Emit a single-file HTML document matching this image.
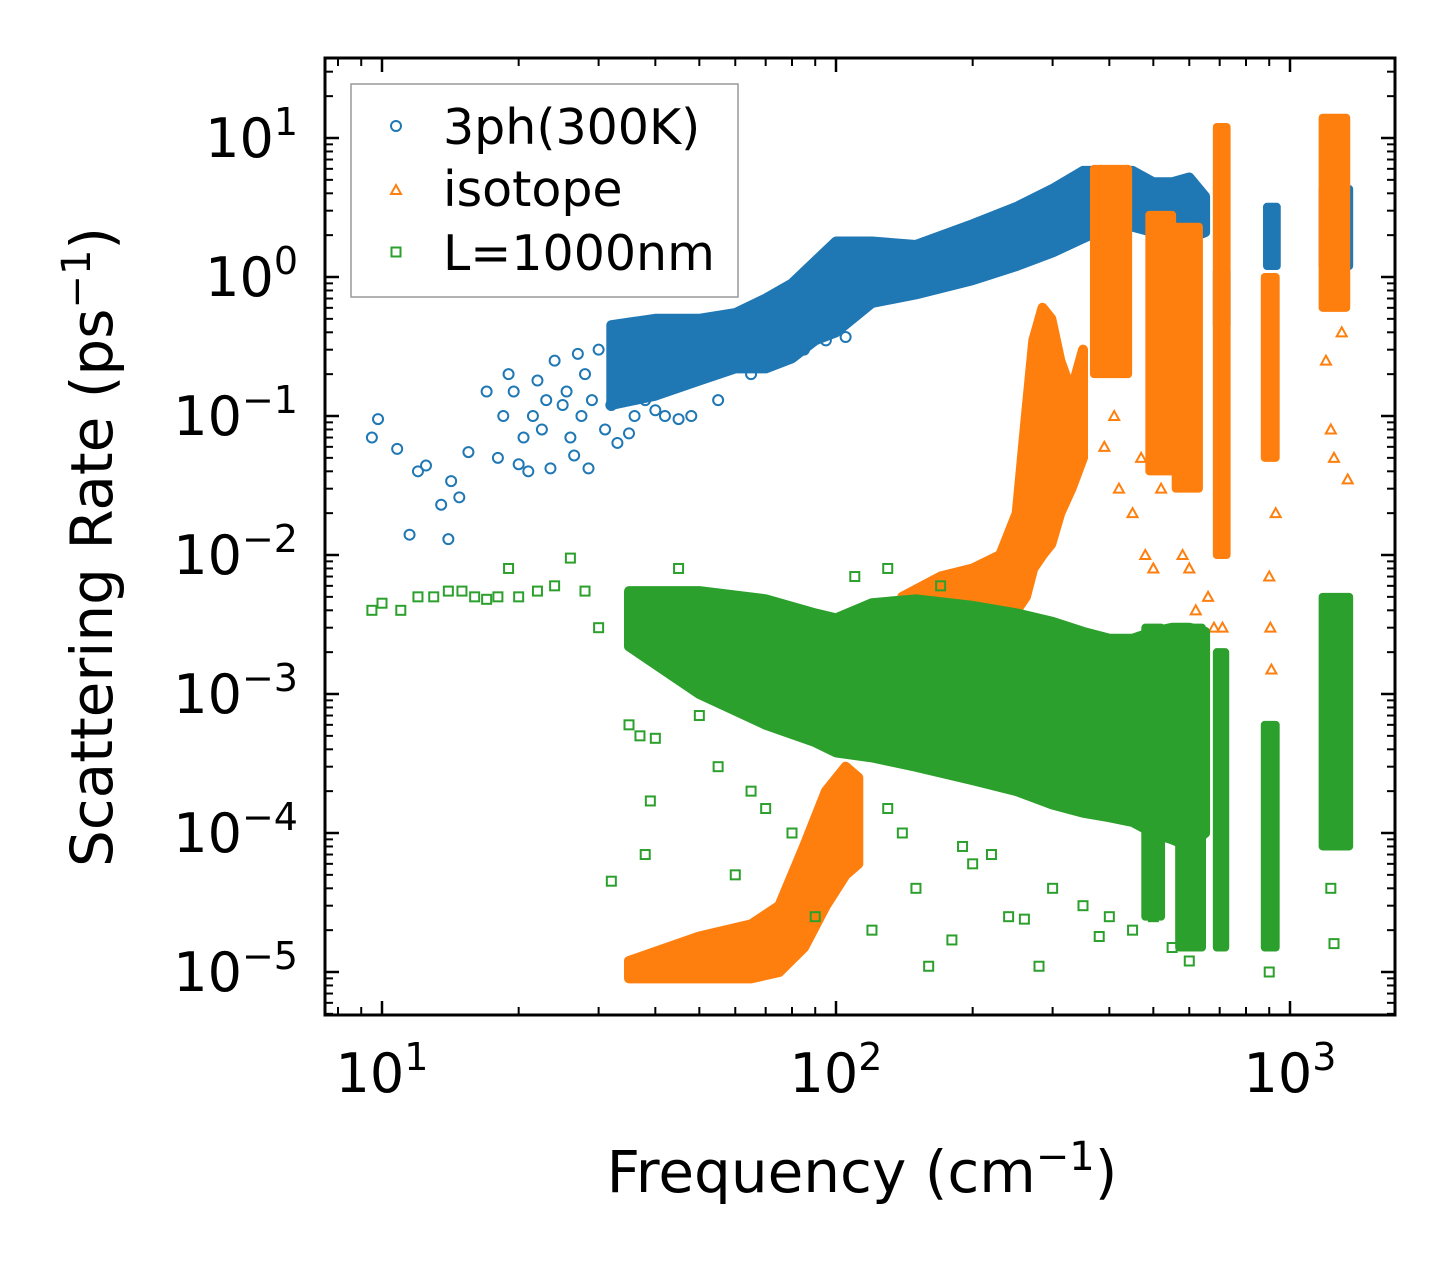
<!DOCTYPE html>
<html><head><meta charset="utf-8"><style>
html,body{margin:0;padding:0;background:#fff}
svg{display:block;font-family:"DejaVu Sans","Liberation Sans",sans-serif}
</style></head><body>
<svg id="chart" width="1455" height="1265" viewBox="0 0 1455 1265" xmlns="http://www.w3.org/2000/svg">
<rect width="1455" height="1265" fill="#fff"/>
<defs><clipPath id="clip"><rect x="325" y="58" width="1070" height="957"/></clipPath></defs>
<g id="marks" clip-path="url(#clip)"></g>
<g id="axes"></g>
<rect x="325" y="58" width="1070" height="957" fill="none" stroke="#000" stroke-width="3"/>
<g>
<rect x="351" y="84" width="387" height="213" fill="#fff" fill-opacity="0.8" stroke="#999" stroke-width="1.5"/>
<circle cx="396" cy="126" r="5" fill="none" stroke="#1f77b4" stroke-width="2"/>
<text x="443" y="144" font-size="49">3ph(300K)</text>
<path d="M391,194 L396,185 L401,194 Z" fill="none" stroke="#ff7f0e" stroke-width="2"/>
<text x="443" y="206" font-size="49">isotope</text>
<rect x="391.5" y="247.5" width="9" height="9" fill="none" stroke="#2ca02c" stroke-width="2"/>
<text x="443" y="270" font-size="49">L=1000nm</text>
</g>
<text x="862" y="1192" font-size="58" text-anchor="middle">Frequency (cm<tspan font-size="40" dy="-22">−1</tspan><tspan dy="22">)</tspan></text>
<text transform="translate(112,547) rotate(-90)" font-size="58" text-anchor="middle">Scattering Rate (ps<tspan font-size="40" dy="-22">−1</tspan><tspan dy="22">)</tspan></text>
</svg>
<script>
// ---- data ----
const xTickExps = [1, 2, 3];
const yTickExps = [1, 0, -1, -2, -3, -4, -5];
// blue (3ph) scattered points
const blueF = [9.5,9.8,10.8,11.5,12,12.5,13.5,14,14.2,14.8,15.5,17,18,18.5,19,19.5,20,20.5,21,21.5,22,22.5,23,23.5,24,25,25.5,26,26.5,27,27.5,28,28.5,29,30,31,32,33,34,35,36,38,40,42,45,48,55,65,75,85,95,105];
const blueY = [0.07,0.095,0.058,0.014,0.04,0.044,0.023,0.013,0.034,0.026,0.055,0.15,0.05,0.1,0.2,0.15,0.045,0.07,0.04,0.1,0.18,0.08,0.13,0.042,0.25,0.12,0.15,0.07,0.052,0.28,0.1,0.2,0.042,0.13,0.3,0.08,0.12,0.064,0.2,0.075,0.1,0.13,0.11,0.1,0.095,0.1,0.13,0.2,0.28,0.3,0.35,0.37];
// blue dense envelope
const blueEnvF = [32,40,50,60,70,80,90,100,120,150,200,250,300,350,400,450,500,550,600,650];
const blueEnvHi = [0.45,0.5,0.5,0.55,0.7,0.9,1.3,1.8,1.8,1.7,2.4,3.2,4.3,5.8,5.8,5.8,4.8,4.8,5.2,3.8];
const blueEnvLo = [0.12,0.14,0.18,0.22,0.22,0.26,0.35,0.4,0.65,0.75,0.95,1.2,1.5,1.9,2.3,2.3,2.1,2.0,1.9,2.1];
// blue dense clusters
const blueClF0 = [690,890,1180];
const blueClF1 = [725,935,1350];
const blueClLo = [0.45,1.2,1.2];
const blueClHi = [1.1,3.2,4.3];
// orange (isotope)
const orangeEnvF = [35,50,65,75,85,95,105,112];
const orangeEnvHi = [1.2e-5,1.8e-5,2.2e-5,3e-5,8e-5,2e-4,3e-4,2.5e-4];
const orangeEnvLo = [9e-6,9e-6,9e-6,1e-5,1.5e-5,3e-5,5e-5,6e-5];
const orangeEnv2F = [140,170,200,230,250,262,272,285,298,312,330,350];
const orangeEnv2Hi = [5e-3,7e-3,8e-3,0.01,0.02,0.1,0.35,0.6,0.5,0.25,0.15,0.3];
const orangeEnv2Lo = [2e-3,2e-3,2.5e-3,3e-3,4e-3,5e-3,0.008,0.01,0.012,0.02,0.03,0.05];
const orangeClF0 = [370,490,560,690,880,1180];
const orangeClF1 = [440,550,630,725,930,1330];
const orangeClLo = [0.2,0.04,0.03,0.01,0.05,0.6];
const orangeClHi = [6,2.8,2.3,12,1,14];
const orangeF = [100,105,110,95,390,410,420,450,470,480,500,520,580,600,620,660,680,700,710,900,910,905,930,1200,1230,1250,1300,1340];
const orangeY = [1e-3,8e-4,1.6e-3,2e-4,0.06,0.1,0.03,0.02,0.05,0.01,0.008,0.03,0.01,0.008,0.004,0.005,0.003,0.1,0.003,0.007,0.0015,0.003,0.02,0.25,0.08,0.05,0.4,0.035];
// green (L=1000nm)
const greenEnvF = [35,50,70,90,100,120,150,200,250,300,350,400,450,500,550,600,650];
const greenEnvHi = [5.5e-3,5.5e-3,4.8e-3,3.8e-3,3.5e-3,4.5e-3,4.8e-3,4.3e-3,3.8e-3,3.3e-3,2.8e-3,2.5e-3,2.5e-3,2.8e-3,3e-3,3e-3,2.8e-3];
const greenEnvLo = [2.2e-3,1e-3,6e-4,4.5e-4,3.8e-4,3.5e-4,3e-4,2.4e-4,2e-4,1.6e-4,1.4e-4,1.3e-4,1.2e-4,1e-4,9e-5,8e-5,1e-4];
const greenClF0 = [480,570,690,880,1180];
const greenClF1 = [520,640,720,930,1350];
const greenClLo = [2.5e-5,1.5e-5,1.5e-5,1.5e-5,8e-5];
const greenClHi = [3e-3,3e-3,2e-3,6e-4,5e-3];
const greenF = [9.5,10,11,12,13,14,15,16,17,18,19,20,22,24,26,28,30,32,35,37,39,40,38,45,50,55,60,65,70,80,90,100,120,130,150,160,180,200,240,260,280,300,350,400,380,450,500,550,600,900,1250,1230,110,130,170,140,190,220];
const greenY = [4e-3,4.5e-3,4e-3,5e-3,5e-3,5.5e-3,5.5e-3,5e-3,4.8e-3,5e-3,8e-3,5e-3,5.5e-3,6e-3,9.5e-3,5.5e-3,3e-3,4.5e-5,6e-4,5e-4,1.7e-4,4.8e-4,7e-5,8e-3,7e-4,3e-4,5e-5,2e-4,1.5e-4,1e-4,2.5e-5,5e-4,2e-5,1.5e-4,4e-5,1.1e-5,1.7e-5,6e-5,2.5e-5,2.4e-5,1.1e-5,4e-5,3e-5,2.5e-5,1.8e-5,2e-5,2.5e-5,1.5e-5,1.2e-5,1e-5,1.6e-5,4e-5,7e-3,8e-3,6e-3,1e-4,8e-5,7e-5];

// ---- axes ----
const X0 = 382, XDEC = 454, Y0 = 277, YDEC = 139;
function sx(f){ return X0 + (Math.log10(f) - 1) * XDEC; }
function sy(v){ return Y0 - Math.log10(v) * YDEC; }
const NS = 'http://www.w3.org/2000/svg';
const marks = document.getElementById('marks');
const axes = document.getElementById('axes');
function mk(tag, attrs, parent){
  const e = document.createElementNS(NS, tag);
  for (const k in attrs) e.setAttribute(k, attrs[k]);
  parent.appendChild(e);
  return e;
}
const COL = {b:'#1f77b4', o:'#ff7f0e', g:'#2ca02c'};

function envelope(F, Hi, Lo, col, name){
  let pts = [];
  for (let i = 0; i < F.length; i++) pts.push(sx(F[i]).toFixed(1) + ',' + sy(Hi[i]).toFixed(1));
  for (let i = F.length - 1; i >= 0; i--) pts.push(sx(F[i]).toFixed(1) + ',' + sy(Lo[i]).toFixed(1));
  const p = mk('polygon', {points: pts.join(' '), fill: col, stroke: col, 'stroke-width': 10, 'stroke-linejoin': 'round'}, marks);
  
  
}
function clusters(F0, F1, Lo, Hi, col, name){
  for (let i = 0; i < F0.length; i++){
    const r = mk('rect', {x: sx(F0[i]), y: sy(Hi[i]), width: sx(F1[i]) - sx(F0[i]), height: sy(Lo[i]) - sy(Hi[i]), fill: col, stroke: col, 'stroke-width': 8, 'stroke-linejoin': 'round'}, marks);
    
    
  }
}
function points(F, Y, kind, col, name){
  for (let i = 0; i < F.length; i++){
    const x = sx(F[i]), y = sy(Y[i]);
    let e;
    if (kind === 'c') e = mk('circle', {cx: x, cy: y, r: 5, fill: 'none', stroke: col, 'stroke-width': 2}, marks);
    else if (kind === 't') e = mk('path', {d: `M${x-5},${y+4} L${x},${y-5} L${x+5},${y+4} Z`, fill: 'none', stroke: col, 'stroke-width': 2}, marks);
    else e = mk('rect', {x: x - 4.5, y: y - 4.5, width: 9, height: 9, fill: 'none', stroke: col, 'stroke-width': 2}, marks);
    
    
  }
}
// blue
envelope(blueEnvF, blueEnvHi, blueEnvLo, COL.b, 'blue-dense-band');
clusters(blueClF0, blueClF1, blueClLo, blueClHi, COL.b, 'blue-cluster');
points(blueF, blueY, 'c', COL.b, 'blue-point');
// orange
envelope(orangeEnvF, orangeEnvHi, orangeEnvLo, COL.o, 'orange-dense-band');
envelope(orangeEnv2F, orangeEnv2Hi, orangeEnv2Lo, COL.o, 'orange-dense-band');
clusters(orangeClF0, orangeClF1, orangeClLo, orangeClHi, COL.o, 'orange-cluster');
points(orangeF, orangeY, 't', COL.o, 'orange-point');
// green
envelope(greenEnvF, greenEnvHi, greenEnvLo, COL.g, 'green-dense-band');
clusters(greenClF0, greenClF1, greenClLo, greenClHi, COL.g, 'green-cluster');
points(greenF, greenY, 's', COL.g, 'green-point');

// ticks
const L = 325, R = 1395, T = 58, B = 1015;
for (let e = 0; e <= 3; e++){
  for (let m = 1; m <= 9; m++){
    const x = sx(m * Math.pow(10, e));
    if (x < L || x > R) continue;
    const len = m === 1 ? 14 : 8;
    mk('line', {x1: x, y1: B, x2: x, y2: B - len, stroke: '#000', 'stroke-width': m === 1 ? 2.5 : 2}, axes);
    mk('line', {x1: x, y1: T, x2: x, y2: T + len, stroke: '#000', 'stroke-width': m === 1 ? 2.5 : 2}, axes);
  }
}
for (let e = -6; e <= 1; e++){
  for (let m = 1; m <= 9; m++){
    const y = sy(m * Math.pow(10, e));
    if (y < T || y > B) continue;
    const len = m === 1 ? 14 : 8;
    mk('line', {x1: L, y1: y, x2: L + len, y2: y, stroke: '#000', 'stroke-width': m === 1 ? 2.5 : 2}, axes);
    mk('line', {x1: R, y1: y, x2: R - len, y2: y, stroke: '#000', 'stroke-width': m === 1 ? 2.5 : 2}, axes);
  }
}
function expLabel(x, y, exp, anchor, name){
  const t = mk('text', {x: x, y: y, 'font-size': 54, 'text-anchor': anchor}, axes);
  
  
  t.appendChild(document.createTextNode('10'));
  const s = mk('tspan', {'font-size': 38, dy: -22}, t);
  s.textContent = exp < 0 ? '−' + (-exp) : String(exp);
}
xTickExps.forEach(e => expLabel(sx(Math.pow(10, e)), 1092, e, 'middle', 'x-tick-label'));
yTickExps.forEach(e => expLabel(298, sy(Math.pow(10, e)) + 19, e, 'end', 'y-tick-label'));
</script>
</body></html>
